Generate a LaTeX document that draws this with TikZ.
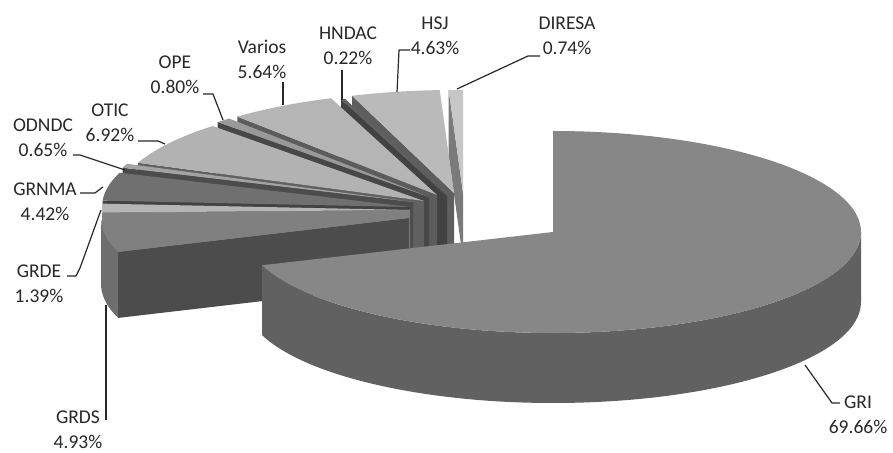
\documentclass[tikz,border=0pt]{standalone}
\usepackage{fontspec}
\setmainfont{Carlito}
\definecolor{txt}{HTML}{282828}
\newcommand\pieTop[4]{\fill[fill=#4] (#1) -- ++(#2:308 and 103) arc[start angle=#2, end angle=#3, x radius=308, y radius=103] -- cycle;}
\newcommand\pieFace[3]{\fill[fill=#3] (#1) -- ++(#2:308 and 103) -- ++(0,-66) -- ++({#2+180}:308 and 103) -- cycle;}
\newcommand\pieSide[4]{\fill[fill=#4] (#1) ++(#2:308 and 103) arc[start angle=#2, end angle=#3, x radius=308, y radius=103] -- ++(0,-66) arc[start angle=#3, end angle=#2, x radius=308, y radius=103] -- cycle;}
\begin{document}
\begin{tikzpicture}[x=1pt,y=1pt,line join=round,
  lbl/.style={font=\fontsize{19.5}{25}\selectfont, text=txt, align=center, inner sep=0pt},
  lead/.style={draw=txt, line width=1.2pt}]
\useasboundingbox (0,0) rectangle (893,452);
\fill[white] (0,0) rectangle (893,452);
% slice centres
\coordinate (cDIR) at (463,259);
\coordinate (cHSJ) at (454,259);
\coordinate (cHND) at (447,256);
\coordinate (cVAR) at (437,257);
\coordinate (cOPE) at (429,255);
\coordinate (cOTI) at (424,251);
\coordinate (cODN) at (413,250);
\coordinate (cGRN) at (410,245);
\coordinate (cGRE) at (410,242);
\coordinate (cGRS) at (409,234);
\coordinate (cGRI) at (553,220);
% DIRESA
\pieFace{cDIR}{92.66}{black!52}
\pieTop{cDIR}{90}{92.66}{black!22}
% HSJ
\pieFace{cHSJ}{109.33}{black!63}
\pieTop{cHSJ}{92.66}{109.33}{black!27}
% HNDAC
\pieFace{cHND}{110.12}{black!74}
\pieTop{cHND}{109.33}{110.12}{black!62}
% Varios
\pieFace{cVAR}{130.43}{black!64}
\pieTop{cVAR}{110.12}{130.43}{black!29}
% OPE
\pieFace{cOPE}{133.31}{black!72}
\pieTop{cOPE}{130.43}{133.31}{black!40}
% OTIC
\pieFace{cOTI}{158.22}{black!62}
\pieTop{cOTI}{133.31}{158.22}{black!30}
% ODNDC
\pieFace{cODN}{160.56}{black!70}
\pieTop{cODN}{158.22}{160.56}{black!36}
% GRNMA
\pieFace{cGRN}{176.47}{black!74}
\pieTop{cGRN}{160.56}{176.47}{black!56}
% GRDE
\pieFace{cGRE}{181.48}{black!50}
\pieSide{cGRE}{180}{181.48}{black!42}
\pieTop{cGRE}{176.47}{181.48}{black!29}
% GRDS
\pieFace{cGRS}{199.22}{black!70}
\pieSide{cGRS}{181.48}{199.22}{black!57}
\pieTop{cGRS}{181.48}{199.22}{black!50}
% GRI
\fill[black!62] (cGRI) ++(199.22:308 and 101) arc[start angle=199.22, end angle=360, x radius=308, y radius=101] -- ++(0,-70) arc[start angle=360, end angle=199.22, x radius=308, y radius=101] -- cycle;
\fill[black!47] (cGRI) -- ++(199.22:308 and 101) arc[start angle=199.22, end angle=450, x radius=308, y radius=101] -- cycle;
% labels
\node[lbl] (lDIR) at (567,416.5) {DIRESA\\0.74\%};
\node[lbl] (lHSJ) at (435,416.5) {HSJ\\4.63\%};
\node[lbl] (lHND) at (348,406.5) {HNDAC\\0.22\%};
\node[lbl] (lVAR) at (262,392.5) {Varios\\5.64\%};
\node[lbl] (lOPE) at (175,377) {OPE\\0.80\%};
\node[lbl] (lOTI) at (110,329.5) {OTIC\\6.92\%};
\node[lbl] (lODN) at (43,314.5) {ODNDC\\0.65\%};
\node[lbl] (lGRN) at (45,250.5) {GRNMA\\4.42\%};
\node[lbl] (lGRE) at (39,168.5) {GRDE\\1.39\%};
\node[lbl] (lGRS) at (78,22) {GRDS\\4.93\%};
\node[lbl] (lGRI) at (858,37.5) {GRI\\69.66\%};
% leader points
\coordinate (a1) at (540,396); \coordinate (a2) at (528,396); \coordinate (a3) at (457,363);
\coordinate (b1) at (410,402); \coordinate (b2) at (399,402); \coordinate (b3) at (397,360);
\coordinate (c1) at (342,382); \coordinate (c3) at (342,352);
\coordinate (d1) at (283,370); \coordinate (d3) at (283,347);
\coordinate (e1) at (203,358); \coordinate (e2) at (213,358); \coordinate (e3) at (223,332);
\coordinate (f1) at (138,311); \coordinate (f2) at (158,311); \coordinate (f3) at (165,308);
\coordinate (g1) at (73,297); \coordinate (g2) at (80,297); \coordinate (g3) at (125,282);
\coordinate (h1) at (80,259); \coordinate (h2) at (95,259); \coordinate (h3) at (103,265);
\coordinate (i1) at (67,176); \coordinate (i2) at (76,176); \coordinate (i3) at (80,184); \coordinate (i4) at (101,242);
\coordinate (j1) at (106,32); \coordinate (j3) at (106,147);
\coordinate (k1) at (840,49); \coordinate (k2) at (832,49); \coordinate (k3) at (805,87);
\draw[lead] (a1) -- (a2) -- (a3);
\draw[lead] (b1) -- (b2) -- (b3);
\draw[lead] (c1) -- (c3);
\draw[lead] (d1) -- (d3);
\draw[lead] (e1) -- (e2) -- (e3);
\draw[lead] (f1) -- (f2) -- (f3);
\draw[lead] (g1) -- (g2) -- (g3);
\draw[lead] (h1) -- (h2) -- (h3);
\draw[lead] (i1) -- (i2) -- (i3) -- (i4);
\draw[lead] (j1) -- (j3);
\draw[lead] (k1) -- (k2) -- (k3);
\end{tikzpicture}
\end{document}
